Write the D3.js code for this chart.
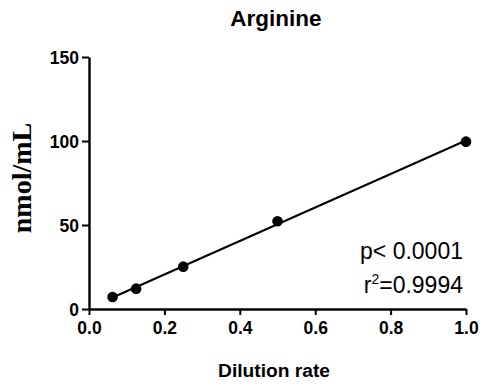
<!DOCTYPE html>
<html>
<head>
<meta charset="utf-8">
<script src="https://cdn.jsdelivr.net/npm/d3@7/dist/d3.min.js"></script>
<style>
  html, body { margin: 0; padding: 0; background: #fff; }
  svg { display: block; }
</style>
</head>
<body>
<svg id="chart" width="482" height="389"></svg>
<script>
// Arginine standard curve: concentration vs dilution rate
const dilution = [0.0625, 0.125, 0.25, 0.5, 1.0];
const concentration = [7.1, 12.1, 25.2, 52.2, 99.6];
const xTicks = [0.0, 0.2, 0.4, 0.6, 0.8, 1.0];
const yTicks = [0, 50, 100, 150];
const statLines = ["p< 0.0001", "r²=0.9994"];

const sans = "'Liberation Sans', Arial, sans-serif";
const svg = d3.select("#chart");
const x = d3.scaleLinear().domain([0, 1]).range([89, 466]);
const y = d3.scaleLinear().domain([0, 150]).range([309, 57]);

// least-squares fit over the measured points
const mx = d3.mean(dilution), my = d3.mean(concentration);
const slope = d3.sum(dilution, (d, i) => (d - mx) * (concentration[i] - my)) /
              d3.sum(dilution, d => (d - mx) * (d - mx));
const intercept = my - slope * mx;
const xr = d3.extent(dilution);

svg.append("line")
  .attr("x1", x(xr[0])).attr("y1", y(intercept + slope * xr[0]))
  .attr("x2", x(xr[1])).attr("y2", y(intercept + slope * xr[1]))
  .attr("stroke", "#000").attr("stroke-width", 2);

svg.selectAll("circle.pt").data(dilution).enter().append("circle")
  .attr("class", "pt")
  .attr("cx", d => x(d))
  .attr("cy", (d, i) => y(concentration[i]))
  .attr("r", 5.3)
  .attr("fill", "#000");

// axes
const xAxis = d3.axisBottom(x).tickValues(xTicks).tickFormat(d3.format(".1f")).tickSize(6).tickSizeOuter(0);
const yAxis = d3.axisLeft(y).tickValues(yTicks).tickFormat(d3.format("d")).tickSize(7).tickSizeOuter(0);

const gx = svg.append("g").attr("transform", "translate(0,309)").call(xAxis);
const gy = svg.append("g").attr("transform", "translate(89,0)").call(yAxis);

[gx, gy].forEach(g => {
  g.attr("font-size", null).attr("font-family", null);
  g.select(".domain").attr("stroke", "#000").attr("stroke-width", 2.4);
  g.selectAll(".tick line").attr("stroke", "#000").attr("stroke-width", 2);
  g.selectAll(".tick text")
    .attr("fill", "#000")
    .style("font-family", sans)
    .style("font-weight", "bold")
    .style("font-size", "17.5px");
});
gx.selectAll(".tick text").attr("dy", "0").attr("y", 25);
gy.selectAll(".tick text").attr("x", -10).attr("dy", "0.36em");

// title
svg.append("text")
  .attr("x", 276).attr("y", 26)
  .attr("text-anchor", "middle")
  .style("font-family", sans)
  .style("font-weight", "bold")
  .style("font-size", "22.5px")
  .text("Arginine");

// x axis title
svg.append("text")
  .attr("x", 274).attr("y", 377)
  .attr("text-anchor", "middle")
  .style("font-family", sans)
  .style("font-weight", "bold")
  .style("font-size", "19.2px")
  .text("Dilution rate");

// y axis title
svg.append("text")
  .attr("transform", "translate(31,178) rotate(-90)")
  .attr("text-anchor", "middle")
  .style("font-family", "'Liberation Serif', 'Times New Roman', serif")
  .style("font-weight", "bold")
  .style("font-size", "28px")
  .text("nmol/mL");

// regression statistics
const stat = svg.append("g")
  .style("font-family", sans)
  .style("font-size", "23px");
stat.append("text")
  .attr("x", 463).attr("y", 259)
  .attr("text-anchor", "end")
  .text(statLines[0]);
const r2 = stat.append("text")
  .attr("x", 463).attr("y", 293)
  .attr("text-anchor", "end");
r2.append("tspan").text("r");
r2.append("tspan").attr("dy", -9).style("font-size", "14px").text("2");
r2.append("tspan").attr("dy", 9).text(statLines[1].slice(2));
</script>
</body>
</html>
